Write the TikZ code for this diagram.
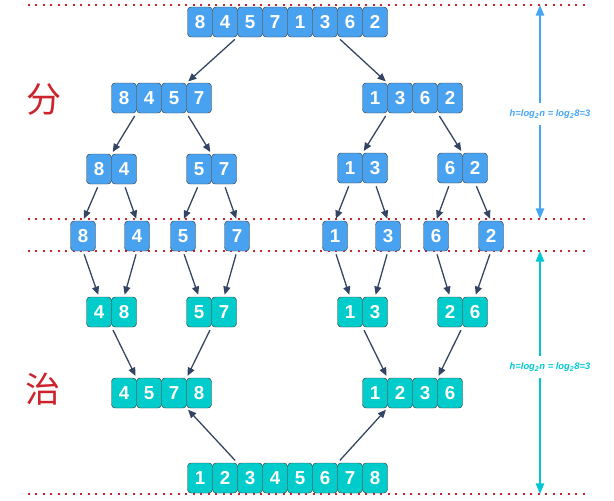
\documentclass[tikz,border=0pt]{standalone}
\usepackage{fontspec}
\setmainfont{Liberation Sans}
\newfontfamily\cjk{Noto Sans CJK SC}
\usetikzlibrary{arrows.meta,positioning}
\definecolor{cellblue}{RGB}{72,162,240}
\definecolor{cellteal}{RGB}{0,204,204}
\definecolor{arrowdark}{RGB}{52,68,100}
\definecolor{dotred}{RGB}{205,35,45}
\definecolor{hblue}{RGB}{70,165,245}
\definecolor{hcyan}{RGB}{0,200,210}
\tikzset{
    x=0.03cm, y=-0.03cm, % one unit is one pixel of the sketch
    cell/.style={draw=black!75, rounded corners=3pt, minimum width=0.75cm,
      minimum height=0.9cm, inner sep=0pt, outer sep=0pt, text=white,
      font=\fontsize{16}{18}\selectfont\bfseries},
    dcell/.style={cell, fill=cellblue}, % divide phase
    ccell/.style={cell, fill=cellteal}, % conquer phase
    link/.style={-{Triangle[length=7pt,width=6pt]}, line width=1.1pt,
      shorten <=3pt, shorten >=2pt, every edge/.style={draw=arrowdark}},
    sepline/.style={draw=dotred, line width=1.4pt, dash pattern=on 1.4pt off 5pt},
    harrow/.style={-{Triangle[length=9pt,width=7pt]}, line width=1.6pt},
    hlabel/.style={font=\fontsize{8}{9}\selectfont\bfseries\itshape,
      minimum height=0.66cm, inner sep=0pt},
}
% a row of cells named #1 1, #1 2, ...
\newcommand{\cellrow}[5]{%
  \foreach \v [count=\i] in {#4}
    \node[#5] (#1\i) at ({#2+25*(\i-1)},#3) {\v};}

\begin{document}
\begin{tikzpicture}
  \useasboundingbox (0,0) rectangle (614,500);

  % dotted level lines
  \foreach \n/\yy in {1/5,2/219,3/251,4/494} {
    \coordinate (w\n) at (28,\yy);
    \coordinate (e\n) at (588,\yy);
    \draw[sepline] (w\n) -- (e\n);
  }

  % divide
  \cellrow{t}{200}{22}{8,4,5,7,1,3,6,2}{dcell}
  \cellrow{a}{124}{98}{8,4,5,7}{dcell}
  \cellrow{b}{375}{98}{1,3,6,2}{dcell}
  \cellrow{c}{99}{169}{8,4}{dcell}
  \cellrow{d}{199}{169}{5,7}{dcell}
  \cellrow{e}{350}{168}{1,3}{dcell}
  \cellrow{f}{450}{168}{6,2}{dcell}
  \foreach \v/\xx [count=\i] in {8/83,4/137,5/183,7/237,1/335,3/388,6/436,2/491}
    \node[dcell] (s\i) at (\xx,236) {\v};

  % conquer
  \cellrow{g}{99}{312}{4,8}{ccell}
  \cellrow{h}{199}{312}{5,7}{ccell}
  \cellrow{m}{350}{312}{1,3}{ccell}
  \cellrow{n}{450}{312}{2,6}{ccell}
  \cellrow{p}{124}{393}{4,5,7,8}{ccell}
  \cellrow{q}{375}{393}{1,2,3,6}{ccell}
  \cellrow{r}{200}{478}{1,2,3,4,5,6,7,8}{ccell}

  \node[text=dotred, font=\cjk\fontsize{30}{32}\selectfont] (fen) at (44,100) {分};
  \node[text=dotred, font=\cjk\fontsize{30}{32}\selectfont] (zhi) at (43,389) {治};

  \path[link]
    (t2.south east) edge (a4.north west)
    (t7.south west) edge (b2.north west)
    (a1.south east) edge (c1.north east)
    (a3.south east) edge (d1.north east)
    (b1.south east) edge (e1.north east)
    (b3.south east) edge (f1.north east)
    (c1.south) edge (s1.north)
    (c2.south) edge (s2.north)
    (d1.south) edge (s3.north)
    (d2.south) edge (s4.north)
    (e1.south) edge (s5.north)
    (e2.south) edge (s6.north)
    (f1.south) edge (s7.north)
    (f2.south) edge (s8.north)
    (s1.south) edge (g1.north)
    (s2.south) edge (g2.north)
    (s3.south) edge (h1.north)
    (s4.south) edge (h2.north)
    (s5.south) edge (m1.north)
    (s6.south) edge (m2.north)
    (s7.south) edge (n1.north)
    (s8.south) edge (n2.north)
    (g1.south east) edge (p1.north east)
    (h1.south east) edge (p3.north east)
    (m1.south east) edge (q1.north east)
    (n1.south east) edge (q3.north east)
    (r2.north east) edge (p3.south east)
    (r6.north east) edge (q1.south east);

  % tree height
  \coordinate (upT) at (540,5);
  \coordinate (upB) at (540,219);
  \coordinate (loT) at (540,251);
  \coordinate (loB) at (540,494);
  \node[hlabel, text=hblue] (hup) at (550,114) {h=log\textsubscript{2}n = log\textsubscript{2}8=3};
  \node[hlabel, text=hcyan] (hlo) at (550,367) {h=log\textsubscript{2}n = log\textsubscript{2}8=3};
  \draw[harrow, hblue] (upT |- hup.north) -- (upT);
  \draw[harrow, hblue] (upB |- hup.south) -- (upB);
  \draw[harrow, hcyan] (loT |- hlo.north) -- (loT);
  \draw[harrow, hcyan] (loB |- hlo.south) -- (loB);
\end{tikzpicture}
\end{document}
